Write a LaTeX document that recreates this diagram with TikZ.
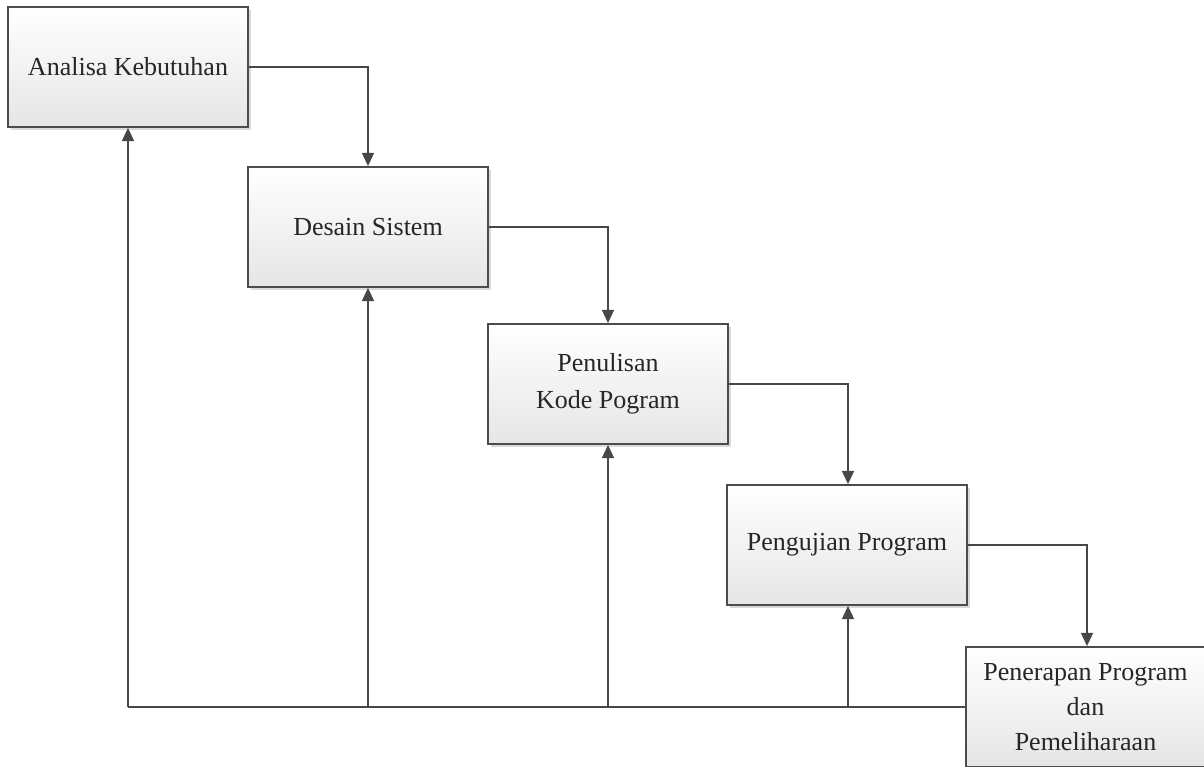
\documentclass[tikz,border=0pt]{standalone}
\usepackage{fontspec}
\setmainfont{Liberation Serif}
\usetikzlibrary{shadows,arrows.meta}
\begin{document}
\begin{tikzpicture}[x=0.75pt,y=-0.75pt,
  stage/.style={draw=black!70,line width=1.3pt,minimum width=180pt,minimum height=90pt,
    top color=white,bottom color=black!10,align=center,inner sep=0pt,
    font=\fontsize{19.5}{26}\selectfont,text=black!85,
    drop shadow={shadow xshift=2pt,shadow yshift=-2pt,opacity=0.15,fill=black}},
  flow/.style={draw=black!72,line width=1.4pt,-{Triangle[length=10pt,width=9pt]}},
  link/.style={draw=black!72,line width=1.4pt}]
\useasboundingbox (0,0) rectangle (1204,767);
\node[stage] (a) at (128,67) {Analisa Kebutuhan};
\node[stage] (b) at (368,227) {Desain Sistem};
\node[stage,font=\fontsize{19.5}{28}\selectfont] (c) at (608,384) {Penulisan\\Kode Pogram};
\node[stage] (d) at (847,545) {Pengujian Program};
\node[stage,minimum width=179pt] (e) at (1085.5,707) {Penerapan Program\\dan\\Pemeliharaan};
\coordinate (ab) at (368,67);
\coordinate (bc) at (608,227);
\coordinate (cd) at (848,384);
\coordinate (de) at (1087,545);
\draw[flow] (a.east) -- (ab) -- (b.north);
\draw[flow] (b.east) -- (bc) -- (c.north);
\draw[flow] (c.east) -- (cd) -- (d.north -| cd);
\draw[flow] (d.east) -- (de) -- (e.north -| de);
\coordinate (fa) at (128,707);
\coordinate (fb) at (368,707);
\coordinate (fc) at (608,707);
\coordinate (fd) at (848,707);
\draw[link] (e.west) -- (fa);
\draw[flow] (fa) -- (a.south);
\draw[flow] (fb) -- (b.south);
\draw[flow] (fc) -- (c.south);
\draw[flow] (fd) -- (d.south -| fd);
\end{tikzpicture}
\end{document}
